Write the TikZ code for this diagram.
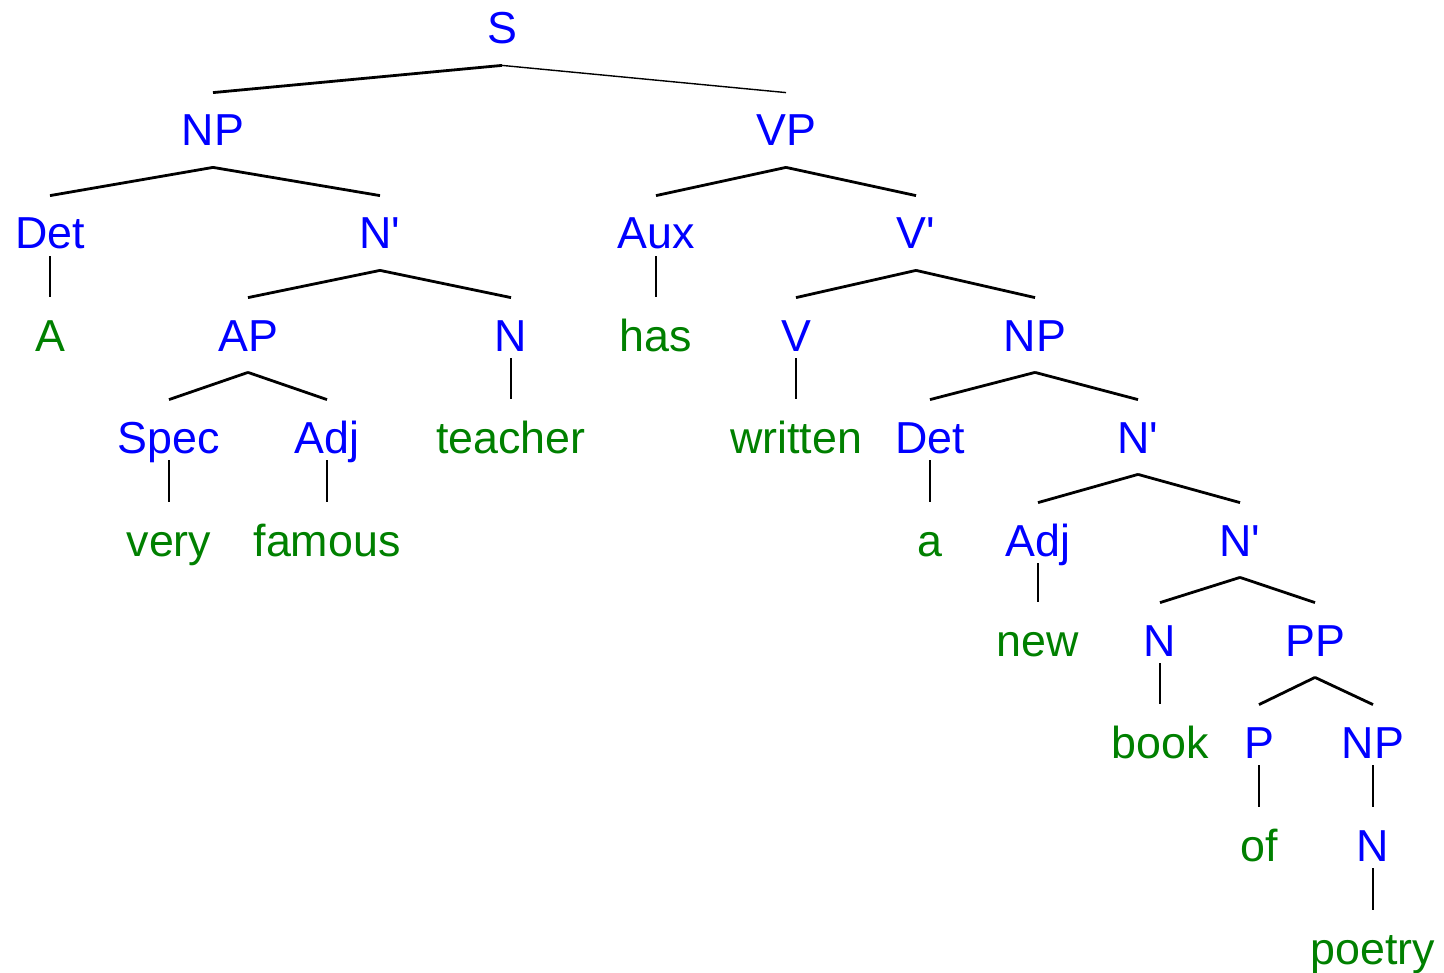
\documentclass[tikz,border=0pt]{standalone}
\usepackage{fontspec}
\setmainfont{Liberation Sans}
\definecolor{catcolor}{rgb}{0.000000, 0.000000, 1.000000}
\definecolor{wordcolor}{rgb}{0.000000, 0.500000, 0.000000}
\newlength{\du}
\setlength{\du}{0.5pt}
\newcommand{\barmark}{\textquotesingle}
\tikzset{
  lbl/.style={inner xsep=0pt, inner ysep=20\du, text height=32\du, text depth=0pt,
    font=\fontsize{22.4}{27}\selectfont},
  cat/.style={lbl, text=catcolor},
  word/.style={lbl, text=wordcolor},
  unary/.style={shorten <=-14\du, shorten >=1\du}
}

\begin{document}
\begin{tikzpicture}[line width=1.4pt]
\pgftransformxscale{1.000000}
\pgftransformyscale{-1.000000}
\useasboundingbox (0,0) rectangle (1444\du,973\du);

\node[cat] (s) at (502\du,28\du) {S};
\node[cat] (np) at (213\du,130\du) {NP};
\node[cat] (vp) at (786\du,130\du) {VP};
\node[cat] (det1) at (50\du,233\du) {Det};
\node[cat] (nbar1) at (380\du,233\du) {N\barmark};
\node[cat] (aux) at (656\du,233\du) {Aux};
\node[cat] (vbar) at (916\du,233\du) {V\barmark};
\node[word] (a) at (50\du,335\du) {A};
\node[cat] (ap) at (248\du,335\du) {AP};
\node[cat] (n1) at (511\du,335\du) {N};
\node[word] (has) at (656\du,335\du) {has};
\node[cat] (v) at (796\du,335\du) {V};
\node[cat] (np2) at (1035\du,335\du) {NP};
\node[cat] (spec) at (169\du,437\du) {Spec};
\node[cat] (adj1) at (327\du,437\du) {Adj};
\node[word] (teacher) at (511\du,437\du) {teacher};
\node[word] (written) at (796\du,437\du) {written};
\node[cat] (det2) at (930\du,437\du) {Det};
\node[cat] (nbar2) at (1138\du,437\du) {N\barmark};
\node[word] (very) at (169\du,540\du) {very};
\node[word] (famous) at (327\du,540\du) {famous};
\node[word] (art) at (930\du,540\du) {a};
\node[cat] (adj2) at (1038\du,540\du) {Adj};
\node[cat] (nbar3) at (1240\du,540\du) {N\barmark};
\node[word] (new) at (1038\du,640\du) {new};
\node[cat] (n2) at (1160\du,640\du) {N};
\node[cat] (pp) at (1315\du,640\du) {PP};
\node[word] (book) at (1160\du,742\du) {book};
\node[cat] (p) at (1259\du,742\du) {P};
\node[cat] (np3) at (1373\du,742\du) {NP};
\node[word] (of) at (1259\du,845\du) {of};
\node[cat] (n3) at (1373\du,845\du) {N};
\node[word] (poetry) at (1373\du,948\du) {poetry};

\draw (s.south)--(np.north);
\draw[line width=0.7pt] (s.south)--(vp.north);
\draw (np.south)--(det1.north);
\draw (np.south)--(nbar1.north);
\draw (vp.south)--(aux.north);
\draw (vp.south)--(vbar.north);
\draw[unary] (det1.south)--(a.north);
\draw (nbar1.south)--(ap.north);
\draw (nbar1.south)--(n1.north);
\draw[unary] (aux.south)--(has.north);
\draw (vbar.south)--(v.north);
\draw (vbar.south)--(np2.north);
\draw (ap.south)--(spec.north);
\draw (ap.south)--(adj1.north);
\draw[unary] (n1.south)--(teacher.north);
\draw[unary] (v.south)--(written.north);
\draw (np2.south)--(det2.north);
\draw (np2.south)--(nbar2.north);
\draw[unary] (spec.south)--(very.north);
\draw[unary] (adj1.south)--(famous.north);
\draw[unary] (det2.south)--(art.north);
\draw (nbar2.south)--(adj2.north);
\draw (nbar2.south)--(nbar3.north);
\draw[unary] (adj2.south)--(new.north);
\draw (nbar3.south)--(n2.north);
\draw (nbar3.south)--(pp.north);
\draw[unary] (n2.south)--(book.north);
\draw (pp.south)--(p.north);
\draw (pp.south)--(np3.north);
\draw[unary] (p.south)--(of.north);
\draw[unary] (np3.south)--(n3.north);
\draw[unary] (n3.south)--(poetry.north);

\end{tikzpicture}
\end{document}
